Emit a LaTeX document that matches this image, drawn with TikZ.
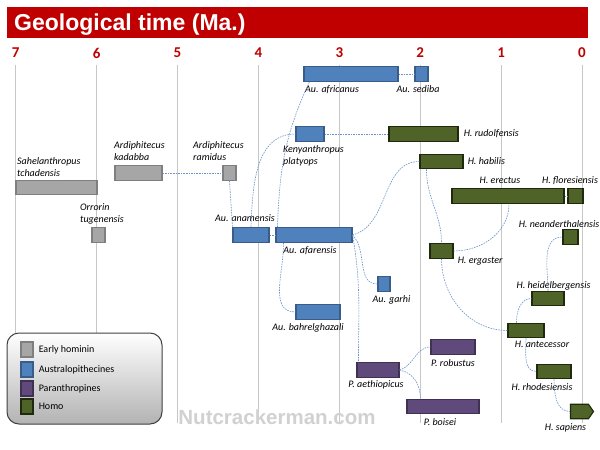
\documentclass[tikz,border=0pt]{standalone}
\usepackage{fontspec}
\setmainfont{Carlito}
\newfontfamily\headfont{Liberation Sans}
\usepackage{tikz}
\usetikzlibrary{shapes.symbols}
\usepackage{xcolor}
\definecolor{barred}{HTML}{C00000}
\definecolor{earlyfill}{HTML}{A6A6A6}
\definecolor{earlyline}{HTML}{7F7F7F}
\definecolor{austrfill}{HTML}{4F81BD}
\definecolor{austrline}{HTML}{385D8A}
\definecolor{paranfill}{HTML}{604A7B}
\definecolor{paranline}{HTML}{3F3151}
\definecolor{homofill}{HTML}{4F6228}
\definecolor{homoline}{HTML}{1F2A0C}
\definecolor{linkblue}{HTML}{6A94CA}

\begin{document}
\begin{tikzpicture}[x=1pt,y=-1pt,
	sp/.style={rectangle,draw,line width=1.1pt,inner sep=0pt,minimum height=14.5pt},
	early/.style={sp,fill=earlyfill,draw=earlyline},
	austr/.style={sp,fill=austrfill,draw=austrline},
	paran/.style={sp,fill=paranfill,draw=paranline},
	homo/.style={sp,fill=homofill,draw=homoline},
	lbl/.style={font=\fontsize{10}{12}\selectfont\itshape,inner sep=1pt,text height=7pt,text depth=2pt,label distance=2.5pt},
	lbl2/.style={font=\fontsize{10}{12}\selectfont\itshape,inner sep=1pt,align=left},
	key/.style={font=\fontsize{10}{12}\selectfont,inner sep=1pt,label distance=4pt},
	tick/.style={text=barred,font=\bfseries\fontsize{15}{15}\selectfont,inner sep=0pt},
	grid/.style={draw=black!22,line width=0.8pt},
	link/.style={draw=linkblue,line width=0.6pt,dash pattern=on 1.6pt off 1pt}]
			\useasboundingbox (0,0) rectangle (600,450);
			\fill[white] (0,0) rectangle (600,450);
			% time axis
			\foreach \t in {0,...,7}{
				\draw[grid] ({582-80.9*\t},65) -- ({582-80.9*\t},423);
				\node(n\t) at ({582-80.9*\t},53)[tick]{\t};
			}
			\fill[barred] (7,7) rectangle (588,38);
			\node(title) at (14,25)[anchor=west,inner sep=0pt,text=white,font=\headfont\bfseries\fontsize{23}{26}\selectfont]{Geological time (Ma.)};
			\node(wm) at (277,417)[text=black!18,font=\headfont\bfseries\fontsize{20.5}{20.5}\selectfont]{Nutcrackerman.com};
			% legend
			\node(leg) at (84.5,378.5)[draw=black!75,line width=1pt,rounded corners=12pt,top color=white,bottom color=black!30,minimum width=155pt,minimum height=91pt]{};
			\node(k1) at (27,349.5)[early,minimum width=12pt,minimum height=15pt,label={[key]right:Early hominin}]{};
			\node(k2) at (27,369.5)[austr,minimum width=12pt,minimum height=15pt,label={[key]right:Australopithecines}]{};
			\node(k3) at (27,388.5)[paran,minimum width=12pt,minimum height=15pt,label={[key]right:Paranthropines}]{};
			\node(k4) at (27,406.5)[homo,minimum width=12pt,minimum height=15pt,label={[key]right:Homo}]{};
			% species
			\node(1) at (56.5,187.5)[early,minimum width=81pt,label={[lbl2,anchor=south west,label distance=1.5pt,xshift=-40.5pt]above:Sahelanthropus\\tchadensis}]{};
			\node(2) at (98.5,235)[early,minimum width=13pt,label={[lbl2,anchor=south west,label distance=1.3pt,xshift=-19.5pt]above:Orrorin\\tugenensis}]{};
			\node(3) at (138.5,173)[early,minimum width=47pt,label={[lbl2,anchor=south west,label distance=3.5pt,xshift=-25.5pt]above:Ardiphitecus\\kadabba}]{};
			\node(4) at (229.5,173)[early,minimum width=13pt,label={[lbl2,anchor=south west,label distance=3.5pt,xshift=-37.5pt]above:Ardiphitecus\\ramidus}]{};
			\node(5) at (351,74)[austr,minimum width=94pt,label={[lbl,xshift=-19pt]below:Au. africanus}]{};
			\node(6) at (421.5,74)[austr,minimum width=13pt,label={[lbl,xshift=-3.5pt]below:Au. sediba}]{};
			\node(7) at (310,134)[austr,minimum width=28pt,label={[lbl2,anchor=north west,label distance=2.5pt,xshift=-28pt]below:Kenyanthropus\\platyops}]{};
			\node(8) at (423.5,134)[homo,minimum width=69pt,label={[lbl,label distance=4pt]right:H. rudolfensis}]{};
			\node(9) at (441.5,161.5)[homo,minimum width=43pt,label={[lbl,label distance=3pt]right:H. habilis}]{};
			\node(10) at (508,196)[homo,minimum width=112pt,label={[lbl,label distance=1.5pt,xshift=-8pt]above:H. erectus}]{};
			\node(11) at (575.5,196)[homo,minimum width=15pt,label={[lbl,label distance=1.5pt,xshift=-5.5pt]above:H. floresiensis}]{};
			\node(12) at (251,235)[austr,minimum width=36pt,label={[lbl,xshift=-6pt]above:Au. anamensis}]{};
			\node(13) at (314,235)[austr,minimum width=76pt,label={[lbl,xshift=-4pt]below:Au. afarensis}]{};
			\node(14) at (441.5,251)[homo,minimum width=23pt,label={[lbl,label distance=3pt,yshift=-10pt]right:H. ergaster}]{};
			\node(15) at (570.5,237)[homo,minimum width=15pt,label={[lbl,label distance=-1pt,xshift=-11.5pt]above:H. neanderthalensis}]{};
			\node(16) at (384,284)[austr,minimum width=12pt,label={[lbl,xshift=7.5pt]below:Au. garhi}]{};
			\node(17) at (318,312)[austr,minimum width=44pt,label={[lbl,xshift=-10pt]below:Au. bahrelghazali}]{};
			\node(18) at (548,298.5)[homo,minimum width=32pt,label={[lbl,label distance=-0.5pt,xshift=5.5pt]above:H. heidelbergensis}]{};
			\node(19) at (526,330.5)[homo,minimum width=36pt,label={[lbl,label distance=0.5pt,xshift=16pt]below:H. antecessor}]{};
			\node(20) at (453,347)[paran,minimum width=44pt,label={[lbl,label distance=3.5pt]below:P. robustus}]{};
			\node(21) at (378,370)[paran,minimum width=42pt,label={[lbl,label distance=1.5pt,xshift=-2pt]below:P. aethiopicus}]{};
			\node(22) at (443,406.5)[paran,minimum width=72pt,label={[lbl,xshift=-3pt]below:P. boisei}]{};
			\node(23) at (554,371.5)[homo,minimum width=34pt,label={[lbl,xshift=-12pt]below:H. rhodesiensis}]{};
			\node(24) at (579.5,411.5)[homo,signal,signal to=east,signal pointer angle=110,minimum width=23pt,label={[lbl,xshift=-14pt]below:H. sapiens}]{};
			% lineage
			\draw[link] (3.east) -- (4.west);
			\draw[link] (4.south) -- ([xshift=3pt]4.south |- 12.north);
			\draw[link] (12.east) -- (13.west);
			\draw[link] (12.north) to[out=88,in=180] (7.west);
			\draw[link] ([xshift=2pt]13.north west) to[out=88,in=-115] ([xshift=6pt]5.south west);
			\draw[link] (5.east) -- (6.west);
			\draw[link] (7.east) -- (8.west);
			\draw[link] (13.east) to[out=15,in=180] (9.west);
			\draw[link] (13.east) to[out=-45,in=180] (16.west);
			\draw[link] (13.east) to[out=-80,in=90] ([xshift=2pt]21.north west);
			\draw[link] ([xshift=8pt]13.south west) to[out=-88,in=180] (17.west);
			\draw[link] (21.east) to[out=15,in=180] (20.west);
			\draw[link] (21.east) to[out=-10,in=90] ([xshift=14pt]22.north west);
			\draw[link] ([xshift=7pt]9.south west) to[out=-90,in=90] (14.north);
			\draw[link] (14.east) to[out=0,in=-90] ([xshift=1pt]10.south);
			\draw[link] (10.east) -- (11.west);
			\draw[link] (14.south) to[out=-90,in=180] (19.west);
			\draw[link] ([xshift=9pt]19.north west) to[out=90,in=180] (18.west);
			\draw[link] (18.north) to[out=90,in=180] (15.west);
			\draw[link] (19.south) to[out=-90,in=180] (23.west);
			\draw[link] (23.south) to[out=-90,in=180] (24.west);
		\end{tikzpicture}
\end{document}
